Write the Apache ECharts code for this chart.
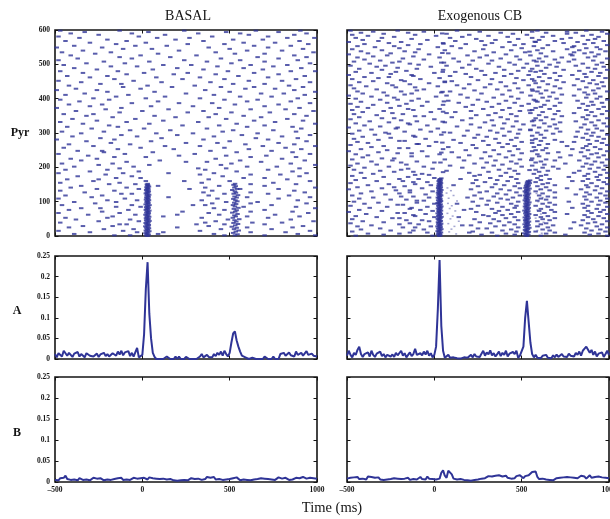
<!DOCTYPE html>
<html><head><meta charset="utf-8">
<script src="https://cdn.jsdelivr.net/npm/echarts@6.0.0/dist/echarts.min.js"></script>
<style>html,body{margin:0;padding:0;background:#fff}#chart{width:610px;height:519px}</style>
</head><body><div id="chart"></div>
<script>
// ---------- axis ticks ----------
const timeTicks = [-500, 0, 500, 1000];
const pyrTicks = [0, 100, 200, 300, 400, 500, 600];
const rateTicks = [0, 0.05, 0.1, 0.15, 0.2, 0.25];
const panelTitles = ['BASAL', 'Exogenous CB'];
const rowLabels = ['Pyr', 'A', 'B'];
const xTitle = 'Time (ms)';

// ---------- raster data: [neuron, spike times (ms) ...] ----------
const basalTrains = [
[598,-470,-130,240,650,905],[594,-330,35,480,780],[590,-410,-60,320,560,940],[586,-250,130,610,870],
[581,-480,-20,400,720],[577,-360,85,270,830,985],[572,-200,190,520,690],[568,-440,-90,350,900],
[563,-300,20,580,760],[559,-150,260,470,950],[554,-390,-40,140,640,850],[549,-490,-230,380,720],
[545,-110,55,500,920],[540,-340,210,600,800],[535,-460,-180,420,980],[531,-270,90,530,700],
[526,-410,-10,310,870],[521,-130,160,660,940],[517,-370,-60,450,780],[512,-480,240,560,890],
[508,-220,40,370,700],[503,-320,-100,510,960],[498,-450,120,280,620,830],[494,-180,-30,430,750],
[489,-390,200,580,910],[485,-260,60,350,690],[480,-470,-140,490,850,990],[475,-340,10,260,640],
[471,-90,180,420,780],[466,-430,-200,550,930],[462,-300,80,330,720],[457,-160,230,470,880],
[452,-480,-50,610,800],[448,-350,110,390,960],[443,-240,-120,520,700],[438,-420,30,300,840],
[434,-110,170,450,640,920],[429,-380,-10,590,760],[425,-490,-260,360,870],[420,-200,70,500,990],
[415,-330,250,680,810],[411,-440,-80,410,930],[406,-150,130,560,740],[401,-280,20,330,890],
[397,-470,-190,470,660],[392,-360,90,600,850],[387,-60,210,400,960],[383,-420,-230,530,780],
[378,-300,50,290,700],[373,-490,-120,440,900],[369,-210,150,620,820],[364,-380,0,350,980],
[360,-130,260,510,730],[355,-450,-280,420,870],[350,-320,70,580,940],[346,-170,190,380,680],
[341,-400,-40,480,830],[336,-260,120,640,920],[332,-470,-90,320,760],[327,-340,40,540,990],
[322,-190,230,440,700],[318,-430,-140,600,860],[313,-290,10,370,910],[308,-70,160,520,750],
[304,-460,-220,460,880],[299,-350,80,290,660],[294,-120,200,570,960],[290,-400,-30,410,800],
[285,-240,110,650,890],[281,-490,-160,350,720],[276,-320,50,500,940],[271,-180,250,430,780],
[267,-420,-70,590,870],[262,-280,130,330,690,990],[257,-450,-10,470,820],[253,-140,180,610,910],
[248,-370,-230,390,740],[244,-220,60,540,860],[239,-480,-100,300,960],[234,-310,210,480,710],
[230,-160,20,620,880],[225,-410,-260,420,800],[220,-350,100,560,930],[216,-90,250,370,680],
[211,-460,-170,510,850],[207,-250,40,450,990],[202,-390,-50,600,770],[197,-130,320,480,900],
[193,-440,-200,360,720],[188,-300,-20,540,860],[183,-480,-110,150,410,940],[179,-210,330,620,790],
[174,-370,-60,460,900],[169,-150,-10,580,700],[165,-430,-250,380,830],[160,-280,20,240,500,960],
[155,-470,-130,340,750],[151,-190,-40,620,880],[146,-350,90,440,700],[141,-410,-90,360,990],
[137,-260,-20,270,560,780],[132,-470,-160,400,870],[127,-330,350,620,930],[123,-120,-60,470,720],
[118,-440,-230,380,840],[113,-290,150,600,960],[109,-480,-100,430,780],[104,-200,-30,340,890],
[99,-390,-150,480,660],[95,-270,400,620,940],[90,-460,-60,290,360,740],[85,-150,-10,580,880],
[81,-350,-240,410,990],[76,-420,-80,470,700],[71,-230,230,620,860],[67,-480,-130,380,950],
[62,-310,-40,200,440,760],[57,-170,120,600,900],[53,-440,-200,340,720],[48,-380,-70,490,850],
[43,-250,-20,420,980],[39,-470,360,630,800],[34,-130,-90,310,470,700],[29,-340,-170,380,920],
[25,-420,200,600,860],[20,-220,-50,450,740],[15,-480,-110,330,960],[11,-300,-30,120,620,820],
[6,-390,90,410,890],[2,-160,-70,470,700,990]
];
const basalBurst1 = [
[0,30],[2,22],[4,36],[6,28],[8,18],[10,33],[12,25],[14,40],[16,20],[18,31],[20,27],[22,38],[24,23],[26,34],[28,17],[30,29],
[32,37],[34,24],[36,32],[38,19],[40,35],[42,26],[44,41],[46,22],[48,30],[50,36],[52,21],[54,28],[56,39],[58,25],[60,33],
[62,18],[64,30],[66,37],[68,23],[70,34],[72,27],[74,40],[76,20],[78,31],[80,26],[82,36],[84,22],[86,33],[88,28],[90,41],
[92,19],[94,30],[96,35],[98,24],[100,32],[102,27],[104,38],[106,21],[108,34],[110,29],[112,23],[114,36],[116,31],[118,25],
[120,39],[122,28],[124,20],[126,33],[128,26],[130,37],[132,30],[134,22],[136,35],[138,27],[140,32],[142,24],[144,38],
[146,29],[148,33],[150,26],[152,31]
];
const basalBurst2 = [
[2,530],[5,545],[9,520],[13,535],[16,552],[20,525],[24,540],[27,512],[31,532],[35,548],[38,522],[42,538],[46,528],[49,555],
[53,518],[57,535],[60,527],[64,545],[68,515],[71,532],[75,540],[79,524],[82,550],[86,530],[90,519],[93,537],[97,526],
[101,544],[104,533],[108,521],[112,540],[115,528],[119,548],[123,523],[126,536],[130,530],[134,515],[137,543],[141,527],
[145,535],[149,522],[152,531]
];
const exoTrains = [
[598,-480,-210,130,590,870],[595,-350,-60,260,760,960],[592,-420,-150,380,640,810],[589,-290,70,450,760,990],
[586,-470,-110,200,530,900],[583,-380,10,310,680,850],[580,-230,160,420,620,940],[577,-450,-300,90,560,780],
[574,-130,240,480,730,920],[571,-410,-40,350,600,880],[568,-320,120,270,690,970],[565,-490,-190,430,580,820],
[562,-260,50,330,740,910],[559,-400,-80,180,510,860],[556,-150,290,460,650,990],[553,-440,-230,100,570,800],
[550,-340,20,390,790,930],[547,-200,150,500,620,870],[544,-470,-90,280,760,950],[541,-300,60,440,590,830],
[538,-420,-170,230,680,980],[535,-110,340,520,800,900],[532,-380,-250,80,610,860],[529,-490,-30,410,780,940],
[526,-270,190,300,550,790],[523,-350,-120,470,640,920],[520,-440,30,260,730,880],[517,-180,110,380,600,990],
[514,-400,-60,490,690,800],[511,-310,220,330,570,910],[508,-460,-200,140,620,770],[505,-240,40,430,710,960],
[502,-370,-140,310,530,850],[499,-90,200,460,660,930],[496,-480,-280,70,590,810],[493,-330,-20,370,700,970],
[490,-210,160,510,640,880],[487,-430,-100,240,560,920],[484,-300,50,400,740,990],[481,-160,270,480,610,830],
[478,-450,-220,120,580,900],[475,-360,0,350,690,950],[472,-250,180,440,630,860],[469,-490,-130,290,540,790],
[466,-120,90,400,720,940],[463,-400,-260,210,600,870],[460,-320,30,470,660,980],[457,-470,-80,330,560,820],
[454,-190,250,510,700,910],[451,-350,-170,100,620,850],[448,-430,60,380,740,960],[445,-270,-30,460,580,890],
[442,-140,200,320,650,930],[439,-480,-240,130,540,800],[436,-390,20,410,690,970],[433,-220,-110,290,600,870],
[430,-460,170,480,720,940],[427,-330,-60,360,560,830],[424,-100,230,430,640,910],[421,-440,-190,90,590,990],
[418,-290,40,500,680,860],[415,-410,-130,270,610,920],[412,-170,150,390,730,880],[409,-490,-270,70,550,800],
[406,-360,10,440,660,950],[403,-230,190,340,620,870],[400,-450,-90,480,700,930],[397,-310,-210,250,570,990],
[394,-130,80,410,650,820],[391,-420,-40,300,590,900],[388,-270,140,460,720,960],[385,-480,-160,370,540,850],
[382,-350,50,220,630,910],[379,-200,-70,500,690,880],[376,-440,180,330,610,970],[373,-380,-250,430,580,830],
[370,-150,30,280,660,940],[367,-470,-120,390,560,870],[364,-290,210,490,710,990],[361,-410,-20,120,620,900],
[358,-240,70,350,550,800],[355,-460,-180,440,690,960],[352,-330,240,310,600,880],[349,-110,-60,470,730,920],
[346,-430,100,380,640,850],[343,-300,-230,210,580,990],[340,-480,0,420,680,870],[337,-190,160,330,610,940],
[334,-370,-100,470,560,810],[331,-260,60,290,720,900],[328,-450,-150,400,630,970],[325,-140,210,510,690,860],
[322,-400,-40,340,570,920],[319,-310,130,450,660,990],[316,-490,-210,260,600,840],[313,-220,20,390,700,930],
[310,-360,-80,490,550,880],[307,-430,190,320,640,960],[304,-170,-20,430,720,820],[301,-280,90,360,590,910],
[298,-470,-260,480,680,870],[295,-340,40,250,610,990],[292,-120,170,400,560,900],[289,-410,-110,300,810,940],
[286,-250,230,470,630,850],[283,-460,-50,350,580,970],[280,-320,110,440,690,880],[277,-200,-170,280,610,930],
[274,-440,10,500,730,800],[271,-380,150,370,560,960],[268,-100,-90,420,650,890],[265,-480,220,310,600,990],
[262,-290,-30,460,760,870],[259,-360,80,390,570,920],[256,-150,-200,240,640,850],[253,-420,50,480,790,950],
[250,-270,180,340,620,880],[247,-490,-70,430,560,990],[244,-320,100,290,710,840],[241,-210,-130,500,650,930],
[238,-450,30,370,590,900],[235,-380,200,450,780,970],[232,-130,-40,320,600,860],[229,-410,140,410,720,940],
[226,-300,-230,270,560,880],[223,-470,60,490,640,990],[220,-240,170,350,690,830],[217,-360,-100,440,610,920],
[214,-190,0,300,580,960],[211,-440,230,470,750,870],[208,-330,-160,390,630,900],[205,-480,90,340,560,980],
[202,-260,-60,500,680,850],[199,-400,160,280,620,940],[196,-150,-10,430,710,890],[193,-460,-190,370,580,970],
[190,-310,70,460,650,830],[187,-230,-120,310,600,920],[184,-420,200,410,800,990],[181,-350,-70,480,570,880],
[178,-110,-30,260,640,950],[175,-470,230,380,610,860],[172,-290,-150,440,770,930],[169,-400,0,320,590,990],
[166,-200,-90,150,470,660,880],[163,-450,240,360,610,940],[160,-330,-180,420,790,850],[157,-120,-40,290,580,970],
[154,-480,220,480,650,900],[151,-260,-110,350,620,990],[148,-380,-20,110,400,690,870],[145,-170,250,460,590,930],
[142,-440,-230,330,640,880],[139,-300,-70,490,760,960],[136,-490,210,380,610,840],[133,-220,-140,430,660,920],
[130,-360,-10,300,580,990],[127,-140,260,470,690,870],[124,-420,-200,360,620,950],[121,-280,-50,410,810,890],
[118,-470,230,490,600,980],[115,-190,-120,340,650,860],[112,-350,-30,190,450,690,930],[109,-430,270,380,610,990],
[106,-250,-160,420,640,870],[103,-100,-60,310,590,950],[100,-460,220,480,770,900],[97,-320,-100,360,660,980],
[94,-400,0,130,440,620,850],[91,-180,-210,300,690,940],[88,-480,250,470,580,880],[85,-270,-40,390,650,990],
[82,-370,-130,460,790,860],[79,-140,210,330,610,930],[76,-430,-80,170,420,670,970],[73,-300,-10,370,600,880],
[70,-490,240,480,690,950],[67,-210,-170,350,630,900],[64,-390,-50,440,760,990],[61,-120,280,390,580,860],
[58,-450,-110,310,650,940],[55,-330,0,140,460,610,880],[52,-240,-200,410,690,970],[49,-470,230,340,620,910],
[46,-160,-70,480,660,850],[43,-410,-30,370,590,990],[40,-290,260,430,800,920],[37,-480,-140,320,640,880],
[34,-200,-90,460,610,960],[31,-360,160,210,400,680,840],[28,-440,-20,350,590,930],[25,-110,-180,480,650,990],
[22,-310,250,300,780,870],[19,-420,-60,440,620,950],[16,-250,-120,390,660,900],[13,-470,220,470,580,980],
[10,-140,-40,200,330,690,860],[7,-380,-200,410,640,940],[4,-290,270,460,750,890],[1,-450,-10,360,610,990]
];
const exoStreak = [
[590,45],[560,52],[533,46],[505,55],[478,48],[450,60],[420,47],[392,55],[362,50],[333,48],[302,55],[272,46],[243,40],
[214,35],[186,50],
[595,560],[566,575],[537,545],[508,585],[480,550],[452,572],[423,563],[394,580],[366,545],[337,570],[308,550],[279,560],
[250,580],[221,555],[192,545]
];
const exoBurst1 = [
[0,28],[2,35],[4,20],[6,31],[8,24],[10,38],[12,27],[14,19],[16,33],[18,26],[20,40],[22,22],[24,30],[26,36],[28,18],[30,29],
[32,34],[34,23],[36,39],[38,27],[40,21],[42,32],[44,37],[46,25],[48,30],[50,20],[52,35],[54,28],[56,41],[58,23],[60,31],
[62,26],[64,37],[66,19],[68,33],[70,29],[72,24],[74,38],[76,27],[78,32],[80,21],[82,35],[84,28],[86,40],[88,23],[90,30],
[92,36],[94,25],[96,19],[98,33],[100,27],[102,38],[104,22],[106,31],[108,35],[110,26],[112,20],[114,32],[116,29],[118,39],
[120,24],[122,34],[124,28],[126,21],[128,36],[130,30],[132,25],[134,40],[136,27],[138,33],[140,22],[142,37],[144,29],
[146,24],[148,35],[150,31],[152,26],[154,38],[156,30],[158,34],[160,25],[162,36],[164,29],[166,33],[168,40]
];
const exoBurst2 = [
[0,530],[2,522],[4,538],[6,527],[8,515],[10,533],[12,541],[14,524],[16,530],[18,519],[20,536],[22,528],[24,544],[26,521],
[28,532],[30,526],[32,539],[34,517],[36,530],[38,535],[40,523],[42,542],[44,528],[46,520],[48,534],[50,527],[52,540],
[54,518],[56,531],[58,537],[60,525],[62,529],[64,543],[66,521],[68,533],[70,526],[72,538],[74,516],[76,530],[78,536],
[80,524],[82,541],[84,528],[86,519],[88,534],[90,527],[92,539],[94,522],[96,531],[98,544],[100,525],[102,533],[104,518],
[106,537],[108,529],[110,523],[112,540],[114,527],[116,532],[118,520],[120,536],[122,528],[124,542],[126,524],[128,531],
[130,518],[132,538],[134,526],[136,533],[138,545],[140,522],[142,530],[144,537],[146,525],[148,540],[150,529],[152,534],
[154,546],[156,531],[158,540],[160,536],[162,548]
];
const exoFaint = [
[140,75],[132,95],[125,70],[118,110],[110,82],[102,130],[95,78],[88,100],[80,88],[73,120],[66,75],[58,105],[50,92],
[43,140],[36,80],[28,115],[20,98],[12,85],[6,125],[135,600],[124,585],[112,620],[100,595],[88,640],[76,590],[64,610],
[52,580],[40,625],[28,600],[16,590],[8,615]
];

// ---------- rate histograms: 10 ms bins starting at -500 ms ----------
const binStart = -500, binWidth = 10;
const aBasal = [
0.012,0.004,0.014,0.01,0.006,0.02,0.018,0.008,0.015,0.011,
0.005,0.013,0.009,0.017,0.006,0.012,0.01,0.004,0.014,0.011,
0.008,0.012,0.006,0.01,0.013,0.005,0.011,0.009,0.015,0.007,
0.012,0.006,0.01,0.014,0.017,0.008,0.018,0.011,0.02,0.009,
0.016,0.012,0.019,0.007,0.015,0.006,0.01,0.027,0.004,0,
0.01,0.06,0.17,0.235,0.11,0.05,0.015,0.005,
0,0,0,0,0,0,0.006,0.005,0,0,0,0.006,0,0.006,0,0,0,0.005,0.006,0,0,0,0,0,0,
0.006,0.012,0.004,0.008,0.01,0.005,0.009,0.004,0.012,0.007,0.015,0.01,0.018,0.008,0.02,0.012,0.006,
0.015,0.04,0.062,0.067,0.045,0.03,0.018,0.008,0.01,0.004,0,
0,0,0.003,0,0,0,0,0,0,0.006,0.004,0,0,0,0.006,0,0,0,
0.012,0.01,0.015,0.008,0.012,0.016,0.009,0.012,0.006,0.018,0.01,0.013,0.015,0.008,0.012,0.019,0.01,0.006,0.013,0.008,0.011,0.006
];
const aExo = [
0.008,0.02,0.01,0.004,0.015,0.01,0.022,0.03,0.012,0.005,
0.012,0.008,0.016,0.006,0.02,0.01,0.005,0.013,0.009,0.018,
0.007,0.012,0.004,0.01,0.014,0.006,0.011,0.005,0.015,0.009,
0.012,0.02,0.008,0.014,0.004,0.01,0.016,0.007,0.012,0.025,
0.01,0.006,0.014,0.009,0.018,0.011,0.02,0.008,0.014,0.004,
0.01,0.03,0.12,0.24,0.08,0.02,0.003,
0.006,0.01,0.003,0.002,0.004,0.001,0.002,0.003,0.001,0.002,0.004,0.002,0.003,0.006,
0.01,0.004,0.012,0.006,0.009,0.005,0.013,0.02,0.008,0.016,0.011,0.021,0.009,0.014,0.006,0.012,0.018,0.007,0.015,0.01,0.02,0.006,0.013,0.009,0.017,0.012,0.02,0.003,0.008,
0.01,0.03,0.1,0.141,0.09,0.04,0.012,0.004,0.01,
0.003,0.006,0.002,0.008,0.004,0.01,0.003,0.006,0.002,0.009,0.004,0.011,0.005,0.008,0.012,0.006,
0.01,0.005,0.013,0.008,0.012,0.006,0.015,0.01,0.018,0.008,0.02,0.025,0.03,0.028,0.015,0.022,0.01,0.018,0.006,0.013,0.009,0.016,0.005,0.012,0.02,0.01
];
const bBasal = [
0.005,0.008,0.004,0.009,0.006,0.01,0.015,0.007,0.009,0.005,
0.008,0.006,0.01,0.004,0.009,0.007,0.005,0.008,0.006,0.009,
0.004,0.007,0.01,0.006,0.008,0.005,0.009,0.007,0.004,0.008,
0.006,0.009,0.005,0.008,0.007,0.004,0.009,0.006,0.01,0.005,
0.008,0.006,0.009,0.005,0.007,0.01,0.006,0.008,0.005,0.009,
0.007,0.01,0.008,0.006,0.011,0.015,0.009,0.006,0.008,0.004,
0.007,0.005,0.008,0.004,0.006,0.003,0.007,0.005,0.004,0.006,
0.003,0.006,0.004,0.007,0.005,0.008,0.004,0.006,0.009,0.005,
0.007,0.004,0.008,0.006,0.005,0.009,0.007,0.012,0.014,0.01,
0.008,0.012,0.006,0.01,0.007,0.009,0.005,0.008,0.006,0.01,
0.007,0.005,0.009,0.006,0.011,0.007,0.004,0.008,0.006,0.009,
0.005,0.007,0.004,0.008,0.006,0.003,0.007,0.005,0.009,0.006,
0.008,0.004,0.007,0.01,0.006,0.009,0.005,0.008,0.011,0.013,
0.008,0.006,0.01,0.007,0.005,0.009,0.006,0.008,0.01,0.007,
0.009,0.006,0.012,0.015,0.008,0.006,0.01,0.007,0.009,0.005,0.008
];
const bExo = [
0.008,0.012,0.01,0.006,0.011,0.009,0.012,0.007,0.01,0.008,
0.011,0.006,0.013,0.015,0.012,0.016,0.01,0.008,0.011,0.006,
0.009,0.005,0.008,0.006,0.004,0.007,0.005,0.009,0.006,0.008,
0.005,0.007,0.004,0.008,0.006,0.01,0.005,0.009,0.007,0.011,
0.006,0.009,0.012,0.007,0.01,0.006,0.013,0.008,0.011,0.007,
0.008,0.006,0.01,0.008,0.022,0.028,0.015,0.01,0.027,0.029,0.018,0.008,0.005,
0.006,0.004,0.007,0.003,0.005,0.008,0.004,0.006,0.003,0.007,0.005,0.009,0.006,0.01,0.008,0.012,0.009,
0.011,0.014,0.01,0.013,0.009,0.015,0.012,0.016,0.02,0.013,0.011,0.015,0.01,0.013,0.008,0.012,0.009,0.014,0.011,0.016,
0.012,0.009,0.014,0.011,0.016,0.018,0.024,0.02,0.025,0.012,
0.007,0.005,0.008,0.004,0.006,0.003,0.005,0.007,0.004,0.006,0.009,0.007,0.01,0.008,0.011,
0.009,0.012,0.008,0.011,0.013,0.01,0.014,0.009,0.012,0.015,0.011,0.013,0.008,0.012,0.016,0.01,0.014,0.012,0.009,0.013,0.015,0.011,0.014,0.01,0.012,0.009
];

// ---------- build ----------
const FONT = '"Liberation Serif","Times New Roman",serif';
const BLUE = '#2f3497';
const INK = '#141414';

function trainsToPoints(trains) {
  const pts = [];
  trains.forEach(r => { for (let k = 1; k < r.length; k++) pts.push([r[k], r[0]]); });
  return pts;
}
function histToPoints(vals) {
  return vals.map((v, i) => [binStart + i * binWidth, v]);
}
function fmtX(v) { return v < 0 ? '\u2013' + (-v) : String(v); }
function fmtY(v) { return String(+v.toFixed(3)); }

const layout = [
  {left: 55,  top: 30,  height: 206, ticks: pyrTicks,  yl: true,  xl: false},
  {left: 347, top: 30,  height: 206, ticks: pyrTicks,  yl: false, xl: false},
  {left: 55,  top: 256, height: 103, ticks: rateTicks, yl: true,  xl: false},
  {left: 347, top: 256, height: 103, ticks: rateTicks, yl: false, xl: false},
  {left: 55,  top: 377, height: 105, ticks: rateTicks, yl: true,  xl: true},
  {left: 347, top: 377, height: 105, ticks: rateTicks, yl: false, xl: true}
];
const W = 262;
const grid = [], xAxis = [], yAxis = [];
const labelStyle = {fontFamily: FONT, fontWeight: 'bold', fontSize: 7.5, color: INK};
const tick = {show: true, inside: true, length: 3.5, lineStyle: {color: INK, width: 1}};
layout.forEach((g, i) => {
  grid.push({left: g.left, top: g.top, width: W, height: g.height, show: true,
             borderColor: INK, borderWidth: 1.6, backgroundColor: 'transparent',
             containLabel: false, outerBoundsMode: 'none'});
  const xMin = timeTicks[0], xMax = timeTicks[timeTicks.length - 1], xStep = timeTicks[1] - timeTicks[0];
  const yMax = g.ticks[g.ticks.length - 1], yStep = g.ticks[1] - g.ticks[0];
  ['bottom', 'top'].forEach((pos, k) => xAxis.push({
    type: 'value', gridIndex: i, position: pos, min: xMin, max: xMax, interval: xStep,
    axisLine: {show: false, onZero: false}, axisTick: tick, splitLine: {show: false},
    axisLabel: Object.assign({show: g.xl && k === 0, margin: 4, formatter: fmtX,
      showMinLabel: true, showMaxLabel: true}, labelStyle)
  }));
  ['left', 'right'].forEach((pos, k) => yAxis.push({
    type: 'value', gridIndex: i, position: pos, min: 0, max: yMax, interval: yStep,
    axisLine: {show: false, onZero: false}, axisTick: tick, splitLine: {show: false},
    axisLabel: Object.assign({show: g.yl && k === 0, margin: 5, formatter: fmtY,
      showMinLabel: true, showMaxLabel: true}, labelStyle)
  }));
});

const dot = (pts, gi, size, color) => ({
  type: 'scatter', xAxisIndex: gi * 2, yAxisIndex: gi * 2, data: pts, symbol: 'rect',
  symbolSize: size, itemStyle: {color: color}, silent: true, animation: false
});
const line = (vals, gi) => ({
  type: 'line', xAxisIndex: gi * 2, yAxisIndex: gi * 2, data: histToPoints(vals),
  showSymbol: false, symbol: 'none', lineStyle: {color: BLUE, width: 2},
  silent: true, animation: false
});

const series = [
  dot(trainsToPoints(basalTrains).concat(trainsToPoints(basalBurst1), trainsToPoints(basalBurst2)), 0, [4.5, 2], BLUE),
  dot(trainsToPoints(exoFaint), 1, [2, 1.5], '#8d90c6'),
  dot(trainsToPoints(exoTrains).concat(trainsToPoints(exoStreak), trainsToPoints(exoBurst1), trainsToPoints(exoBurst2)), 1, [4.5, 2], BLUE),
  line(aBasal, 2), line(aExo, 3), line(bBasal, 4), line(bExo, 5)
];

const txt = (text, x, y, size, weight) => ({
  type: 'text', x: x, y: y, silent: true,
  style: {text: text, fontFamily: FONT, fontSize: size, fontWeight: weight, fill: INK,
          align: 'center', verticalAlign: 'middle'}
});
const graphic = [
  txt(panelTitles[0], 188, 16, 14, 'normal'),
  txt(panelTitles[1], 480, 16, 14, 'normal'),
  txt(rowLabels[0], 20, 133, 12, 'bold'),
  txt(rowLabels[1], 17, 311, 12, 'bold'),
  txt(rowLabels[2], 17, 433, 12, 'bold'),
  txt(xTitle, 332, 508, 14.5, 'normal')
];

const chart = echarts.init(document.getElementById('chart'), null, {renderer: 'canvas'});
chart.setOption({animation: false, backgroundColor: '#fff', grid, xAxis, yAxis, series, graphic});
</script></body></html>
